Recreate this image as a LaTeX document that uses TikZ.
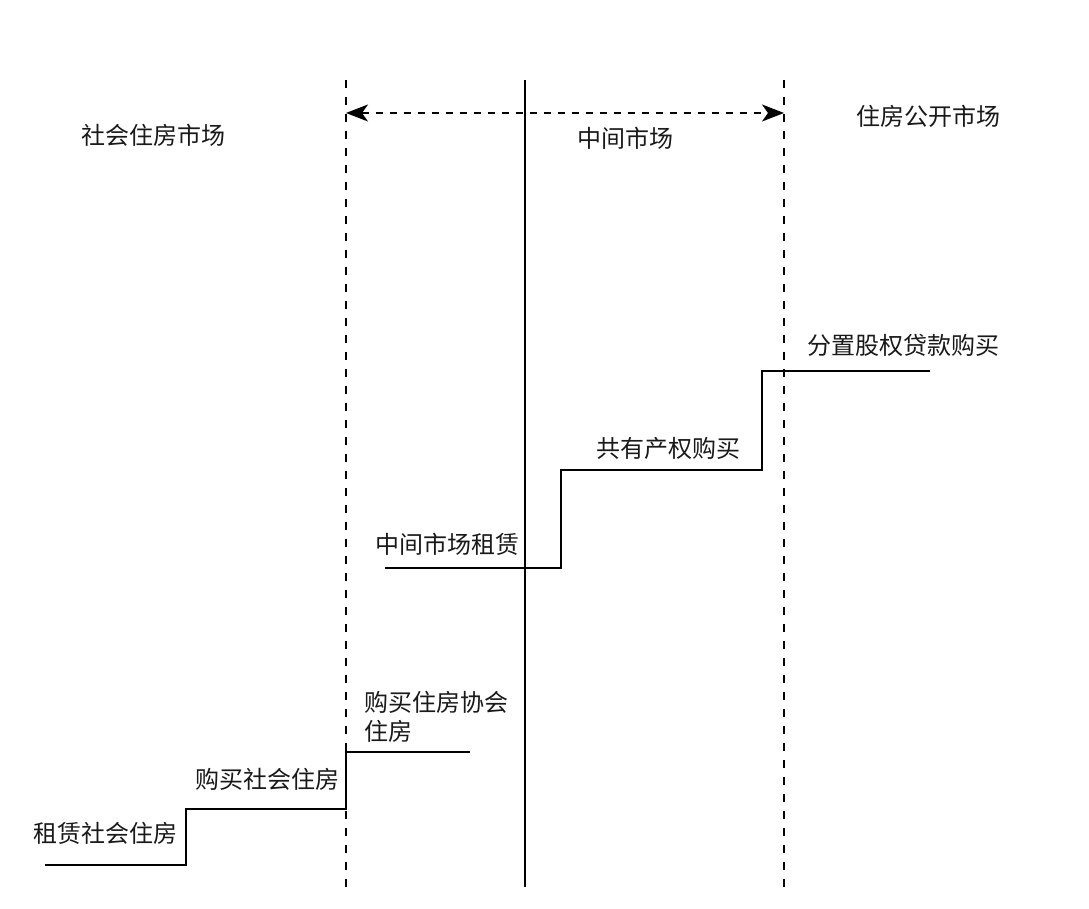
\documentclass[tikz,border=0pt]{standalone}
\usepackage{fontspec}
\setmainfont{Noto Sans CJK SC}
\usetikzlibrary{arrows.meta}
\usetikzlibrary{positioning}

\begin{document}
\begin{tikzpicture}[x=1pt, y=1pt, line width=1.2pt,
    font=\fontsize{24}{29}\selectfont,
    lab/.style={inner sep=0pt, text=black!90},
    divide/.style={dash pattern=on 8pt off 9pt},
    span/.style={dash pattern=on 7pt off 7pt,
      {Stealth[length=22pt, width=17pt, inset=6pt]}-{Stealth[length=22pt, width=17pt, inset=6pt]}}]
  % frame
  \useasboundingbox (0, 0) rectangle (1089, 908);

  % market borders
  \foreach \i/\x/\pat in {1/346/divide, 2/525/solid, 3/784/divide} {
    \coordinate (top-\i) at (\x, 828);
    \coordinate (bot-\i) at (\x, 21);
    \draw[\pat] (top-\i) -- (bot-\i);
  }

  % span of the middle market
  \coordinate (span-l) at (346, 795);
  \coordinate (span-r) at (784, 795);
  \draw[span] (span-l) -- (span-r);

  % market names
  \node[lab] (soc) at (153, 773) {社会住房市场};
  \node[lab] (mid) at (625, 770) {中间市场};
  \node[lab] (open) at (928, 792) {住房公开市场};

  % social steps
  \coordinate (st-0) at (45, 43);
  \coordinate (st-1) at (186, 99);
  \coordinate (st-2) at (346, 156);
  \coordinate (st-3) at (470, 156);
  \draw (st-0) -| (st-1) -| (st-2) -- (st-3);

  \node[lab] (rent-soc) at (105, 75) {租赁社会住房};
  \node[lab] (buy-soc) at (267, 129) {购买社会住房};
  \node[lab, anchor=west, align=left] (buy-ha) at (364, 191.5) {购买住房协会\\住房};

  % middle steps
  \coordinate (mt-0) at (385, 340);
  \coordinate (mt-1) at (561, 438);
  \coordinate (mt-2) at (762, 537);
  \coordinate (mt-3) at (930, 537);
  \draw (mt-0) -| (mt-1) -| (mt-2) -- (mt-3);

  \node[lab] (rent-mid) at (447, 364) {中间市场租赁};
  \node[lab] (co-own) at (668, 460) {共有产权购买};
  \node[lab] (equity) at (903, 563) {分置股权贷款购买};

\end{tikzpicture}
\end{document}
